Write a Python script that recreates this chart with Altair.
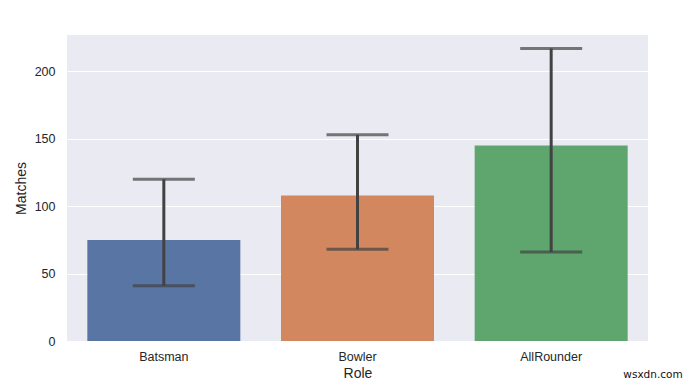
import altair as alt
import pandas as pd

roles = ["Batsman", "Bowler", "AllRounder"]
matches = [75, 108, 145]
ci_low = [41, 68, 66]
ci_high = [120, 153, 217]
colors = ["#5875A4", "#D2875F", "#5FA56E"]

df = pd.DataFrame({"Role": roles, "Matches": matches, "lo": ci_low, "hi": ci_high})

x = alt.X("Role:N", sort=roles, title="Role",
          scale=alt.Scale(paddingInner=0.2, paddingOuter=0.1),
          axis=alt.Axis(labelAngle=0, ticks=False, domain=False, grid=False,
                        labelPadding=9, titlePadding=4))
yscale = alt.Scale(domain=[0, 227], nice=False)

bars = alt.Chart(df).mark_bar(size=153).encode(
    x=x,
    y=alt.Y("Matches:Q", scale=yscale, title="Matches",
            axis=alt.Axis(values=[0, 50, 100, 150, 200], ticks=False, domain=False,
                          gridColor="white", gridWidth=1.2, labelPadding=12, titlePadding=6)),
    color=alt.Color("Role:N", sort=roles, scale=alt.Scale(domain=roles, range=colors), legend=None),
)

err = alt.Chart(df).mark_rule(color="#424242", strokeWidth=3).encode(
    x=alt.X("Role:N", sort=roles),
    y=alt.Y("lo:Q", scale=yscale),
    y2="hi:Q",
)
cap_lo = alt.Chart(df).mark_tick(color="#424242", thickness=3, size=62, orient="horizontal").encode(
    x=alt.X("Role:N", sort=roles), y=alt.Y("lo:Q", scale=yscale))
cap_hi = alt.Chart(df).mark_tick(color="#424242", thickness=3, size=62, orient="horizontal").encode(
    x=alt.X("Role:N", sort=roles), y=alt.Y("hi:Q", scale=yscale))

wm = alt.Chart(pd.DataFrame({"t": ["wsxdn.com"]})).mark_text(
    align="center", baseline="middle", fontSize=10.5, font="DejaVu Sans", color="#111111"
).encode(text="t:N", x=alt.value(586), y=alt.value(340))

chart = alt.layer(bars, err, cap_lo, cap_hi, wm).properties(
    width=581, height=306,
    autosize=alt.AutoSizeParams(type="none"),
    padding={"left": 59, "top": 27, "right": 44, "bottom": 41},
    background="white",
).configure_view(fill="#EAEAF2", stroke=None).configure_axis(
    labelFont="Liberation Sans", titleFont="Liberation Sans",
    labelFontSize=12.5, titleFontSize=14, labelColor="#262626", titleColor="#262626",
    titleFontWeight="normal",
)

chart.save("out.html", embed_options={"renderer": "svg", "actions": False})
